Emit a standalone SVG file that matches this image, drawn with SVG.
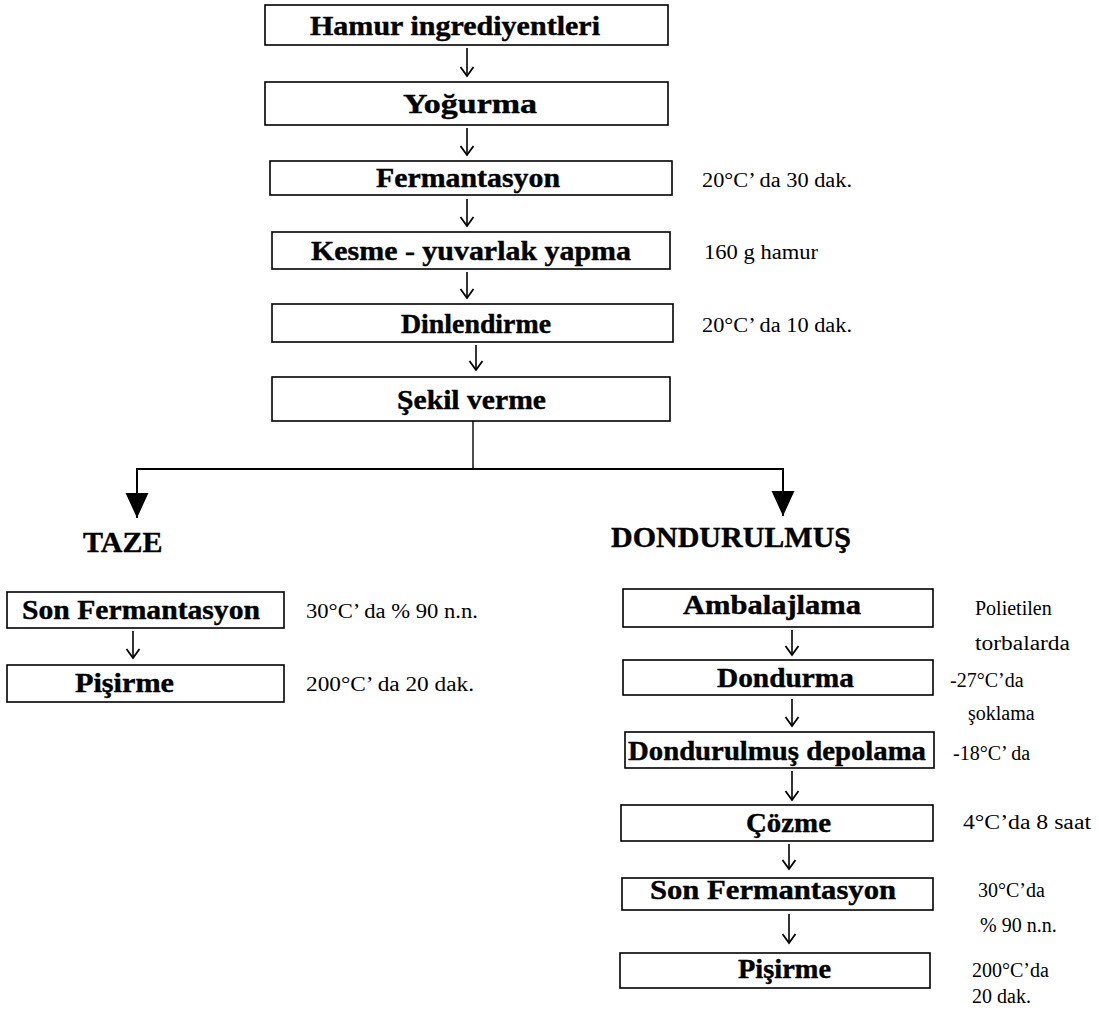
<svg xmlns="http://www.w3.org/2000/svg" width="1099" height="1016" viewBox="0 0 1099 1016">
<style>
.box{fill:#fff;stroke:#000;stroke-width:1.6}
.lbl{font-family:"Liberation Serif","Times New Roman",serif;font-weight:bold;font-size:27px;fill:#000;stroke:#000;stroke-width:0.4}
.big{font-family:"Liberation Serif","Times New Roman",serif;font-weight:bold;font-size:30px;fill:#000;stroke:#000;stroke-width:0.4}
.ann{font-family:"Liberation Serif","Times New Roman",serif;font-size:20px;fill:#000}
.arr{stroke:#000;stroke-width:1.6;fill:none;marker-end:url(#open)}
.br{stroke:#000;stroke-width:2;fill:none}
</style>
<defs>
<marker id="open" markerUnits="userSpaceOnUse" markerWidth="14" markerHeight="16" viewBox="-1 -8 11 16" refX="9" refY="0" orient="auto">
<path d="M0,-6.5 L9,0 L0,6.5" fill="none" stroke="#000" stroke-width="1.8"/>
</marker>
<marker id="tri" markerUnits="userSpaceOnUse" markerWidth="26" markerHeight="26" viewBox="0 -12 25 24" refX="24" refY="0" orient="auto">
<path d="M0,-11 L24,0 L0,11 Z" fill="#000"/>
</marker>
</defs>
<rect width="1099" height="1016" fill="#fff"/>

<g id="connectors">
<line class="arr" x1="467" y1="48" x2="467" y2="76"/>
<line class="arr" x1="467" y1="128" x2="467" y2="155"/>
<line class="arr" x1="467" y1="199" x2="467" y2="226"/>
<line class="arr" x1="467" y1="272" x2="467" y2="298"/>
<line class="arr" x1="476" y1="345" x2="476" y2="370"/>
<path d="M473,421 V469" stroke="#000" stroke-width="1.4" fill="none"/>
<path class="br" d="M473,469 H137 V518" marker-end="url(#tri)"/>
<path class="br" d="M473,469 H783 V516" marker-end="url(#tri)"/>
<line class="arr" x1="133" y1="631" x2="133" y2="658"/>
<line class="arr" x1="792" y1="630" x2="792" y2="655"/>
<line class="arr" x1="792" y1="699" x2="792" y2="726"/>
<line class="arr" x1="792" y1="771" x2="792" y2="800"/>
<line class="arr" x1="789" y1="844" x2="789" y2="869"/>
<line class="arr" x1="789" y1="914" x2="789" y2="943"/>
</g>

<g id="n1"><rect class="box" x="265" y="5" width="403" height="40"/><text class="lbl" x="310" y="35" textLength="290" lengthAdjust="spacingAndGlyphs">Hamur ingrediyentleri</text></g>
<g id="n2"><rect class="box" x="265" y="82" width="403" height="43"/><text class="lbl" x="403" y="113" textLength="134" lengthAdjust="spacingAndGlyphs">Yoğurma</text></g>
<g id="n3"><rect class="box" x="270" y="161" width="402" height="34"/><text class="lbl" x="376" y="187" textLength="184" lengthAdjust="spacingAndGlyphs">Fermantasyon</text><text class="ann" x="702" y="187" textLength="150" lengthAdjust="spacingAndGlyphs">20°C’ da 30 dak.</text></g>
<g id="n4"><rect class="box" x="272" y="232" width="398" height="37"/><text class="lbl" x="311" y="260" textLength="320" lengthAdjust="spacingAndGlyphs">Kesme - yuvarlak yapma</text><text class="ann" x="704" y="259" textLength="114" lengthAdjust="spacingAndGlyphs">160 g hamur</text></g>
<g id="n5"><rect class="box" x="272" y="304" width="401" height="38"/><text class="lbl" x="401" y="333" textLength="150" lengthAdjust="spacingAndGlyphs">Dinlendirme</text><text class="ann" x="702" y="332" textLength="150" lengthAdjust="spacingAndGlyphs">20°C’ da 10 dak.</text></g>
<g id="n6"><rect class="box" x="272" y="377" width="398" height="44"/><text class="lbl" x="397" y="409" textLength="149" lengthAdjust="spacingAndGlyphs">Şekil verme</text></g>

<g id="taze"><text class="big" x="83" y="552">TAZE</text></g>
<g id="dondurulmus"><text class="big" x="611" y="547">DONDURULMUŞ</text></g>

<g id="t1"><rect class="box" x="7" y="592" width="277" height="36"/><text class="lbl" x="22" y="619" textLength="238" lengthAdjust="spacingAndGlyphs">Son Fermantasyon</text><text class="ann" x="306" y="618" textLength="172" lengthAdjust="spacingAndGlyphs">30°C’ da % 90 n.n.</text></g>
<g id="t2"><rect class="box" x="7" y="665" width="277" height="37"/><text class="lbl" x="75" y="692" textLength="99" lengthAdjust="spacingAndGlyphs">Pişirme</text><text class="ann" x="306" y="691" textLength="168" lengthAdjust="spacingAndGlyphs">200°C’ da 20 dak.</text></g>

<g id="d1"><rect class="box" x="623" y="589" width="310" height="38"/><text class="lbl" x="683" y="614" textLength="178" lengthAdjust="spacingAndGlyphs">Ambalajlama</text><text class="ann" x="975" y="615">Polietilen</text><text class="ann" x="975" y="650" textLength="95" lengthAdjust="spacingAndGlyphs">torbalarda</text></g>
<g id="d2"><rect class="box" x="623" y="660" width="310" height="35"/><text class="lbl" x="717" y="687" textLength="137" lengthAdjust="spacingAndGlyphs">Dondurma</text><text class="ann" x="950" y="687">-27°C’da</text><text class="ann" x="968" y="720">şoklama</text></g>
<g id="d3"><rect class="box" x="625" y="732" width="309" height="36"/><text class="lbl" x="628" y="760" textLength="298" lengthAdjust="spacingAndGlyphs">Dondurulmuş depolama</text><text class="ann" x="953" y="760">-18°C’ da</text></g>
<g id="d4"><rect class="box" x="621" y="805" width="312" height="36"/><text class="lbl" x="746" y="832" textLength="85" lengthAdjust="spacingAndGlyphs">Çözme</text><text class="ann" x="963" y="829" textLength="128" lengthAdjust="spacingAndGlyphs">4°C’da 8 saat</text></g>
<g id="d5"><rect class="box" x="622" y="878" width="311" height="32"/><text class="lbl" x="650" y="899" textLength="246" lengthAdjust="spacingAndGlyphs">Son Fermantasyon</text><text class="ann" x="978" y="897">30°C’da</text><text class="ann" x="980" y="932">% 90 n.n.</text></g>
<g id="d6"><rect class="box" x="620" y="953" width="310" height="35"/><text class="lbl" x="738" y="978" textLength="93" lengthAdjust="spacingAndGlyphs">Pişirme</text><text class="ann" x="972" y="977">200°C’da</text><text class="ann" x="972" y="1003">20 dak.</text></g>
</svg>
